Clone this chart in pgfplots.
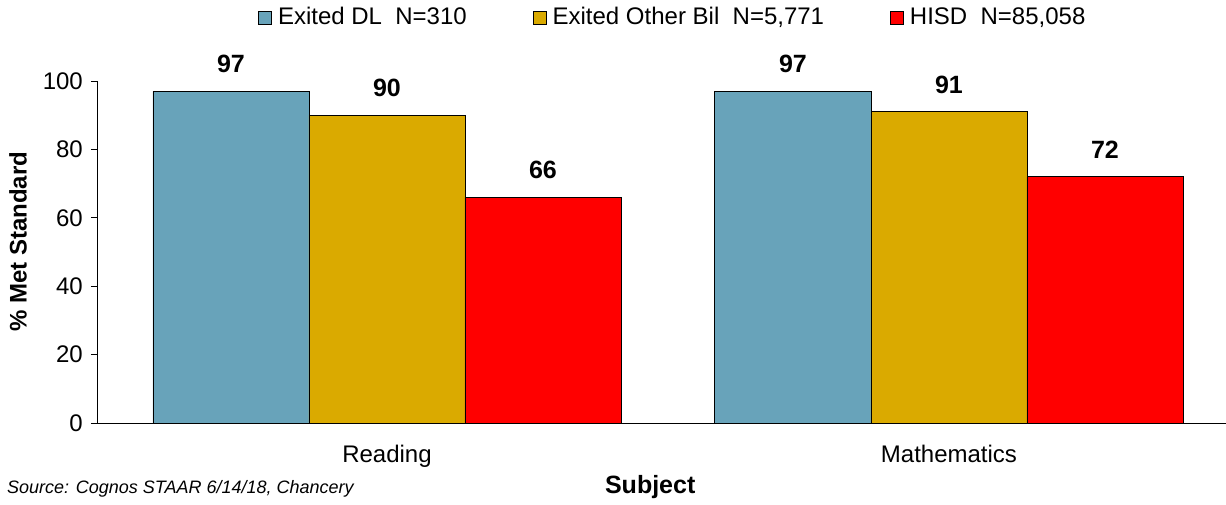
\documentclass[border=0pt]{standalone}
\usepackage{pgfplots}
\pgfplotsset{compat=1.18}
\usepackage{fontspec}
\setmainfont{Liberation Sans}
\definecolor{cblue}{RGB}{104,163,186}
\definecolor{cgold}{RGB}{218,170,0}
\definecolor{cred}{RGB}{255,0,0}
\begin{document}
\fontsize{24}{28}\selectfont
\begin{tikzpicture}[x=1pt,y=1pt]
\useasboundingbox (0,0) rectangle (1226,505);
\begin{axis}[
  at={(97pt,82pt)}, anchor=south west,
  scale only axis, width=1129pt, height=342pt,
  xmin=-0.516, xmax=1.493, ymin=0, ymax=100,
  axis x line*=bottom, axis y line*=left,
  axis line style={-, black, line width=0.9pt},
  ybar, bar width=156pt,
  xtick={0,1}, xticklabels={Reading,Mathematics},
  x tick style={draw=none},
  xticklabel style={yshift=-8pt},
  ytick={0,20,40,60,80,100},
  tick align=outside, major tick length=6pt,
  y tick style={black, line width=0.9pt},
  /pgf/number format/assume math mode=true,
  ticklabel style={font=\fontsize{24}{28}\selectfont},
  nodes near coords,
  every node near coord/.append style={font=\bfseries\fontsize{25}{29}\selectfont, yshift=10pt},
  ylabel={\bfseries \% Met Standard},
  ylabel style={at={(axis description cs:-0.070,0.53)}, anchor=center, font=\fontsize{24}{28}\selectfont},
  xlabel={\bfseries Subject},
  xlabel style={at={(axis description cs:0.49,-0.187)}, anchor=center, font=\fontsize{25}{29}\selectfont},
  legend style={at={(axis description cs:0.510,1.184)}, anchor=center, draw=none, fill=none,
    legend columns=3, font=\fontsize{24}{28}\selectfont,
    /tikz/every even column/.append style={column sep=64pt}},
  legend image code/.code={\draw[#1, draw=black, line width=0.8pt] (0pt,-6.5pt) rectangle (13pt,6.5pt); \path (17pt,0pt);},
]
\addplot[fill=cblue, draw=black, line width=0.9pt, bar shift=-156pt] coordinates {(0,97) (1,97)};
\addplot[fill=cgold, draw=black, line width=0.9pt, bar shift=0pt] coordinates {(0,90) (1,91)};
\addplot[fill=cred, draw=black, line width=0.9pt, bar shift=156pt] coordinates {(0,66) (1,72)};
\legend{Exited DL\ \ N=310, Exited Other Bil\ \ N=5{,}771, HISD\ \ N=85{,}058}
\end{axis}
\node[anchor=west, font=\itshape\fontsize{18}{21}\selectfont, inner sep=0pt] at (7,16) {Source: Cognos STAAR 6/14/18, Chancery};
\end{tikzpicture}
\end{document}
